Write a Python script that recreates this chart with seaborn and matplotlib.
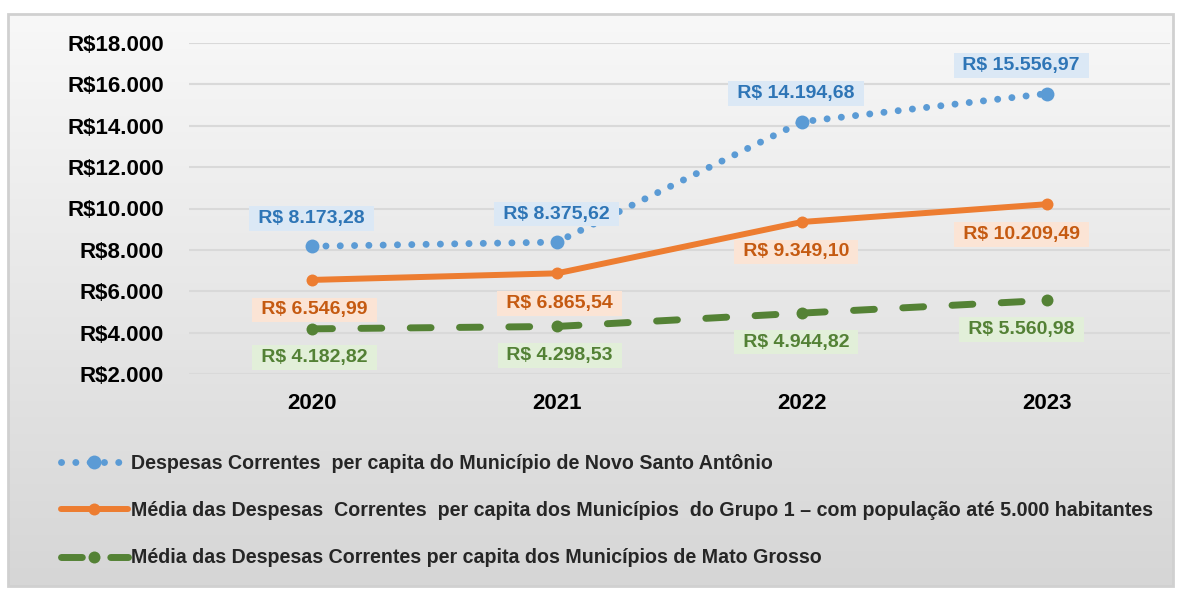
import numpy as np
import pandas as pd
import matplotlib
matplotlib.use("Agg")
import matplotlib.pyplot as plt
import seaborn as sns
from matplotlib.lines import Line2D
from matplotlib.patches import Rectangle
from matplotlib.colors import LinearSegmentedColormap

years = ["2020", "2021", "2022", "2023"]
novo_santo = [8173.28, 8375.62, 14194.68, 15556.97]
grupo1 = [6546.99, 6865.54, 9349.10, 10209.49]
mato_grosso = [4182.82, 4298.53, 4944.82, 5560.98]
yticks = [2000, 4000, 6000, 8000, 10000, 12000, 14000, 16000, 18000]
names = [
    "Despesas Correntes  per capita do Município de Novo Santo Antônio",
    "Média das Despesas  Correntes  per capita dos Municípios  do Grupo 1 – com população até 5.000 habitantes",
    "Média das Despesas Correntes per capita dos Municípios de Mato Grosso",
]

sns.set_theme(style="white")
plt.rcParams['font.family'] = ['Liberation Sans', 'DejaVu Sans']

def brl(v):
    s = f"{v:,.2f}".replace(",", "X").replace(".", ",").replace("X", ".")
    return " R$ " + s + " "

fig = plt.figure(figsize=(11.83, 5.90), dpi=100)
fig.patch.set_facecolor("white")

# gradient background
bg = fig.add_axes([8/1183, 1-586/590, 1165/1183, 572/590], zorder=-10)
grad = np.linspace(0, 1, 256).reshape(-1, 1)
cmap = LinearSegmentedColormap.from_list("g", ["#f8f8f8", "#d6d6d6"])
bg.imshow(grad, aspect="auto", cmap=cmap, extent=[0, 1, 0, 1])
bg.set_axis_off()
bg.add_patch(Rectangle((0, 0), 1, 1, transform=bg.transAxes, fill=False,
                       edgecolor="#d0d0d0", linewidth=2, clip_on=False))

ax = fig.add_axes([189/1183, 1-374/590, (1170-189)/1183, (374-43)/590])
ax.patch.set_alpha(0)

df = pd.DataFrame({"ano": years * 3,
                   "valor": novo_santo + grupo1 + mato_grosso,
                   "serie": [names[0]]*4 + [names[1]]*4 + [names[2]]*4})

colors = ["#5b9bd5", "#ed7d31", "#548235"]
styles = [(0, (0.01, 2.05)), "-", (0, (3.0, 4.1))]
lws = [5.0, 4.3, 5.0]
caps = ["round", "butt", "round"]
msz = [10, 8.6, 8.6]

for i, n in enumerate(names):
    sub = df[df.serie == n]
    sns.lineplot(data=sub, x="ano", y="valor", ax=ax, color=colors[i],
                 linewidth=lws[i], marker="o", markersize=msz[i],
                 markeredgewidth=0, legend=False, sort=False)
    line = ax.lines[-1]
    line.set_linestyle(styles[i])
    line.set_dash_capstyle(caps[i])
    line.set_solid_capstyle("round")

ax.set_xlim(-0.5, 3.5)
ax.set_ylim(2000, 18000)
ax.set_yticks(yticks)
ax.set_yticklabels([f"R${v//1000}.000" for v in yticks], fontsize=16, fontweight="bold", color="#000000")
ax.set_xticks(range(4))
ax.set_xticklabels(years, fontsize=16, fontweight="bold", color="#000000")
ax.tick_params(axis="x", pad=14, length=0)
ax.tick_params(axis="y", pad=18, length=0)
ax.set_xlabel("")
ax.set_ylabel("")
ax.grid(axis="y", color="#d9d9d9", linewidth=1.5)
ax.set_axisbelow(True)
for s in ax.spines.values():
    s.set_visible(False)

label_style = [
    dict(fc="#dbe8f5", tc="#2e75b6", dy=28),
    dict(fc="#fbe4d5", tc="#c55a11", dy=-30),
    dict(fc="#e2efd9", tc="#538135", dy=-29),
]
series = [novo_santo, grupo1, mato_grosso]
dxs = [0, 0, -6, -26]
for si, vals in enumerate(series):
    st = label_style[si]
    for xi, v in enumerate(vals):
        dx = dxs[xi] if si == 0 else (dxs[xi] if xi >= 2 else 3)
        ax.annotate(brl(v), (xi, v), xytext=(dx, st["dy"]), textcoords="offset pixels",
                    ha="center", va="center", fontsize=14, fontweight="bold",
                    color=st["tc"],
                    bbox=dict(boxstyle="square,pad=0.2", fc=st["fc"], ec="none"))

handles = []
for i in range(3):
    h = Line2D([], [], color=colors[i], linewidth=lws[i], linestyle=styles[i],
               marker="o", markersize=msz[i], markeredgewidth=0,
               dash_capstyle=caps[i])
    handles.append(h)
fig.legend(handles, names, loc="upper left", bbox_to_anchor=(43/1183, 1-436/590),
           frameon=False, prop=dict(size=14.1, weight="bold"), handlelength=3.45,
           handletextpad=0.15, labelspacing=1.45, numpoints=1)

fig.savefig("out.png", dpi=100)
